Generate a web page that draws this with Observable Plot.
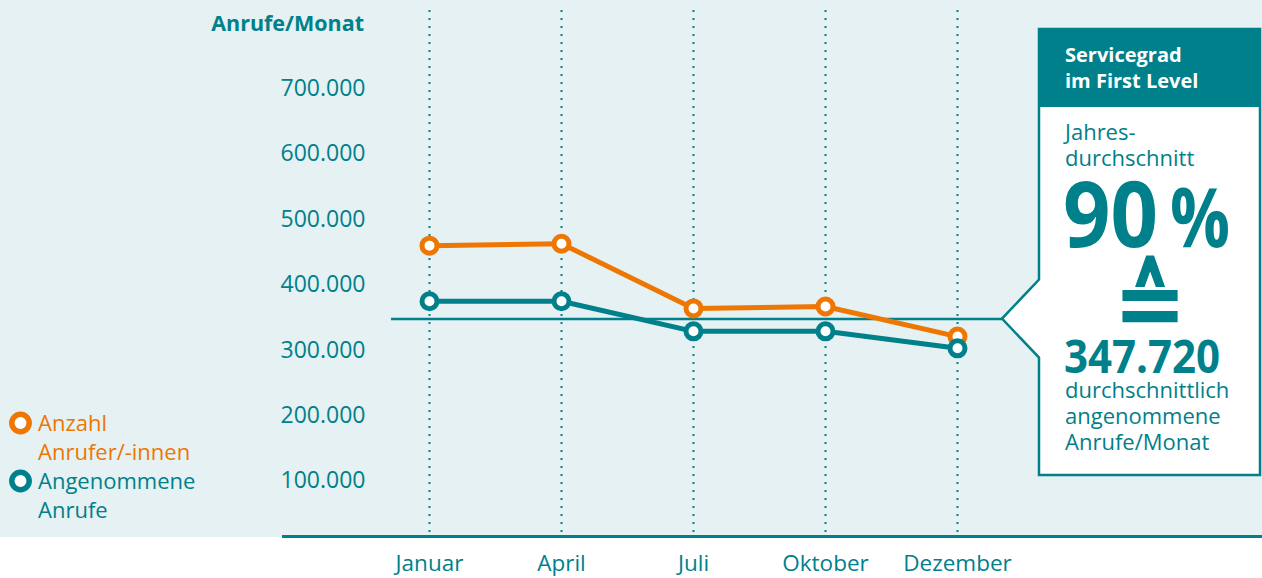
<!DOCTYPE html>
<html><head><meta charset="utf-8">
<script src="https://cdn.jsdelivr.net/npm/d3@7"></script>
<script src="https://cdn.jsdelivr.net/npm/@observablehq/plot@0.6"></script>
<style>
html,body{margin:0;padding:0;background:#fff;}
#wrap{position:relative;width:1262px;height:578px;overflow:hidden;font-family:"Open Sans",sans-serif;}
#bg{position:absolute;left:0;top:0;width:1262px;height:537px;background:#e5f1f3;}
#base{position:absolute;left:282px;top:535px;width:980px;height:3px;background:#00808a;}
#chart{position:absolute;left:0;top:0;}
#overlay{position:absolute;left:0;top:0;}
</style></head><body>
<div id="wrap"><div id="bg"></div><div id="base"></div><div id="chart"></div>
<svg id="overlay" width="1262" height="578"></svg></div>
<script>
const months = ["Januar", "April", "Juli", "Oktober", "Dezember"];
const anrufer = [460000, 463000, 364000, 367000, 321000];
const angenommen = [375000, 375000, 329000, 329000, 303000];
const yTicks = [100000, 200000, 300000, 400000, 500000, 600000, 700000];
const average = 347720;
const servicegrad = 90;
const yTitle = "Anrufe/Monat";
const seriesNames = ["Anzahl\nAnrufer/-innen", "Angenommene\nAnrufe"];

const teal = "#00808a", orange = "#ee7602";
const de = d3.formatLocale({decimal: ",", thousands: ".", grouping: [3], currency: ["", " €"]});
const fmt = de.format(",");

const rowsA = months.map((m, i) => ({month: m, value: anrufer[i]}));
const rowsB = months.map((m, i) => ({month: m, value: angenommen[i]}));

const chart = Plot.plot({
  width: 1262, height: 578, marginTop: 0, marginLeft: 0, marginRight: 0, marginBottom: 41,
  style: {background: "transparent", fontFamily: "Open Sans", color: teal, overflow: "visible"},
  x: {type: "point", domain: months, range: [427, 958], padding: 0},
  y: {domain: [0, 800000], range: [546, 22.8]},
  marks: [
    Plot.ruleX(months, {x: d => d, stroke: teal, strokeWidth: 2, strokeDasharray: "2 6", insetTop: 10}),
    Plot.ruleY([average], {stroke: teal, strokeWidth: 2.5, insetLeft: 391, insetRight: 259}),
    Plot.axisY(yTicks, {anchor: "left", tickSize: 0, tickPadding: 0, dx: 365, tickFormat: fmt, fontSize: 23, fill: teal, label: null}),
    Plot.axisX({anchor: "bottom", tickSize: 0, tickPadding: 18, fontSize: 22.5, fill: teal, label: null}),
    Plot.line(rowsA, {x: "month", y: "value", stroke: orange, strokeWidth: 5}),
    Plot.line(rowsB, {x: "month", y: "value", stroke: teal, strokeWidth: 5}),
    Plot.dot(rowsA, {x: "month", y: "value", r: 7.5, fill: "white", stroke: orange, strokeWidth: 5}),
    Plot.dot(rowsB, {x: "month", y: "value", r: 7.5, fill: "white", stroke: teal, strokeWidth: 5})
  ]
});
document.getElementById("chart").appendChild(chart);

const yAvg = chart.scale("y").apply(average);
const ov = d3.select("#overlay");
// y axis title
ov.append("text").attr("x", 364).attr("y", 31).attr("text-anchor", "end")
  .attr("font-size", 21.5).attr("font-weight", 700).attr("fill", teal).text(yTitle);
// legend
const legColors = [orange, teal];
const legY = [423, 481];
seriesNames.forEach((name, i) => {
  ov.append("circle").attr("cx", 20.5).attr("cy", legY[i]).attr("r", 8.7)
    .attr("fill", "white").attr("stroke", legColors[i]).attr("stroke-width", 5.5);
  name.split("\n").forEach((ln, j) => {
    ov.append("text").attr("x", 38).attr("y", legY[i] + 7.5 + j * 29.5)
      .attr("font-size", 22).attr("fill", legColors[i]).text(ln);
  });
});
// callout box
const L = 1039, R = 1260, T = 29, B = 475, tipX = 1002, half = 39;
ov.append("path")
  .attr("d", `M${L},${T}H${R}V${B}H${L}V${yAvg + half}L${tipX},${yAvg}L${L},${yAvg - half}Z`)
  .attr("fill", "white").attr("stroke", teal).attr("stroke-width", 2.5);
ov.append("rect").attr("x", L).attr("y", T).attr("width", R - L).attr("height", 78).attr("fill", teal);
const t = (x, y, s, txt, opt = {}) => {
  const e = ov.append("text").attr("x", x).attr("y", y).attr("font-size", s)
    .attr("fill", opt.fill || teal).attr("font-weight", opt.bold ? 700 : 400).text(txt);
  if (opt.len) e.attr("textLength", opt.len).attr("lengthAdjust", "spacingAndGlyphs");
  if (opt.anchor) e.attr("text-anchor", opt.anchor);
  if (opt.family) e.attr("font-family", opt.family);
  if (opt.transform) e.attr("transform", opt.transform);
  return e;
};
t(1065, 62, 20, "Servicegrad", {fill: "white", bold: true});
t(1065, 88, 20, "im First Level", {fill: "white", bold: true});
t(1065, 140, 22, "Jahres-");
t(1065, 166, 22, "durchschnitt");
t(1063, 247, 91, String(servicegrad), {bold: true, len: 95});
t(1170, 247, 82, "%", {bold: true, len: 60});
t(0, 0, 80, "≙", {bold: true, anchor: "middle", family: "DejaVu Sans", transform: "translate(1150,336) scale(1.1,1.2)"});
t(1064, 373, 46, fmt(average), {bold: true, len: 156});
t(1065, 398, 22, "durchschnittlich");
t(1065, 424, 22, "angenommene");
t(1065, 450, 22, "Anrufe/Monat");
</script>
</body></html>
